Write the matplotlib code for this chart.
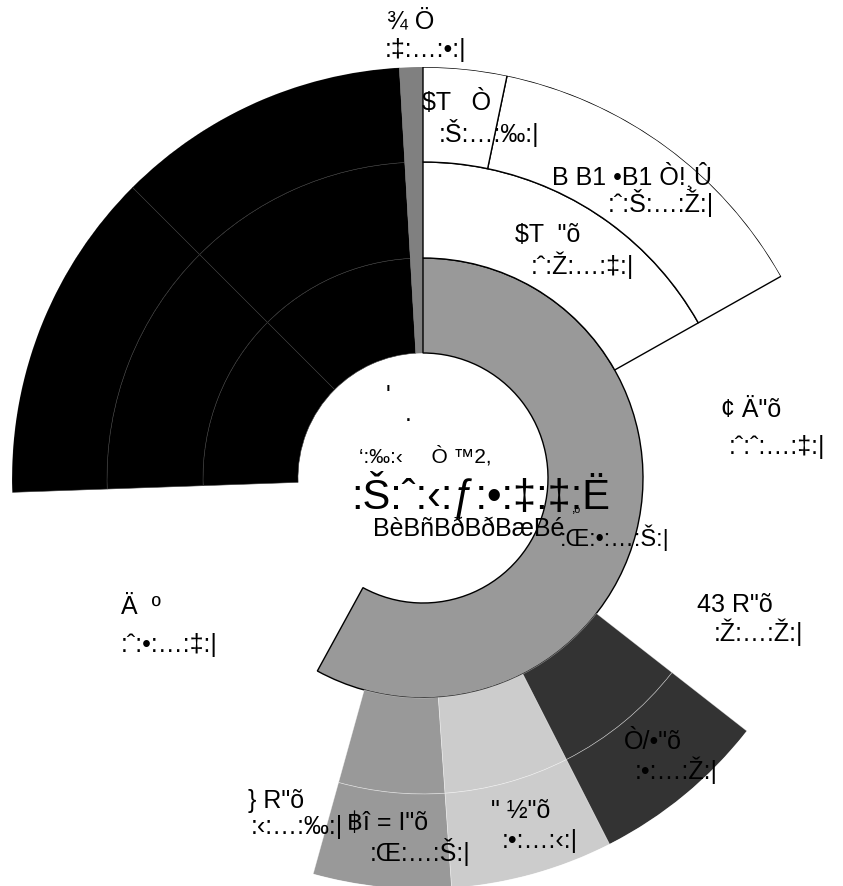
import numpy as np
import matplotlib
matplotlib.use('Agg')
import matplotlib.pyplot as plt

plt.rcParams['font.family'] = ['Liberation Sans', 'DejaVu Sans', 'Noto Sans']

W, H = 843, 886

# ring edges (hole, ring1, ring2, ring3)
ring_edges = [125, 220, 316, 411]

# sector boundaries in degrees (0 = east, counter-clockwise)
black_theta = [93.3, 135.0, 182.0]
thin_theta = [90.0, 93.3]
ring1_theta = [-118.7, 90.0]
top_ring2_theta = [29.4, 90.0]
top_ring3_theta = [29.4, 78.2, 90.0]
bottom_theta = [-105.5, -86.0, -63.0, -38.0]
bottom_colors = ['#999999', '#cccccc', '#333333']

# label texts
label_texts = ['¾ Ö', ':‡:…:•:|',
               '$T   Ò', ':Š:…:‰:|',
               'B B1 •B1 Ò!¸Û', ':ˆ:Š:…:Ž:|',
               '$T  "õ', ':ˆ:Ž:…:‡:|',
               '¢ Ä"õ', ':ˆ:ˆ:…:‡:|',
               '43 R"õ', ':Ž:…:Ž:|',
               'Ò/•"õ', ':•:…:Ž:|',
               '} R"õ', ':‹:…:‰:|',
               '฿î = I"õ', ':Œ:…:Š:|',
               '" ½"õ', ':•:…:‹:|',
               'Ä  º', ':ˆ:•:…:‡:|']
label_pos = [(411, 21), (426, 50),
             (457, 102), (489, 133),
             (632, 176), (661, 203),
             (548, 235), (582, 265),
             (751, 410), (777, 447),
             (735, 605), (758, 632),
             (653, 742), (676, 770),
             (276, 801), (297, 827),
             (388, 823), (420, 852),
             (521, 811), (540, 841),
             (141, 607), (169, 645)]

center_texts = ["'", '.', '‘:‰:‹     Ò ™2,', ':Š:ˆ:‹:ƒ:•:‡:‡:Ë', 'BèBñBðBðBæBé', '‚ₒ', ':Œ:•:…:Š:|']
center_pos = [(388, 396), (408, 414), (425, 456), (481, 494), (469, 529), (576, 508), (615, 538)]
center_size = [18, 18, 15, 30, 18, 11, 17]


def bar(ax, t0, t1, r0, r1, color, ec, lw):
    ax.bar(np.radians(t0), r1 - r0, width=np.radians(t1 - t0), bottom=r0,
           align='edge', color=color, edgecolor=ec, linewidth=lw)


fig = plt.figure(figsize=(W / 100, H / 100), dpi=100)
cx, cy, R = 423, 478, ring_edges[-1]
ax = fig.add_axes([(cx - R) / W, (H - cy - R) / H, 2 * R / W, 2 * R / H], projection='polar')
ax.set_ylim(0, R)
ax.set_axis_off()

# black parent, split in two columns and three rings
for i in range(len(black_theta) - 1):
    for j in range(3):
        bar(ax, black_theta[i], black_theta[i + 1], ring_edges[j], ring_edges[j + 1],
            '#000000', '#3a3a3a', 0.4)

# thin grey wedge
bar(ax, thin_theta[0], thin_theta[1], ring_edges[0], ring_edges[3], '#808080', '#808080', 0.3)

# inner grey ring
bar(ax, ring1_theta[0], ring1_theta[1], ring_edges[0], ring_edges[1], '#999999', '#000000', 1.0)

# white children at top right
bar(ax, top_ring2_theta[0], top_ring2_theta[1], ring_edges[1], ring_edges[2], '#ffffff', '#000000', 1.0)
for i in range(len(top_ring3_theta) - 1):
    bar(ax, top_ring3_theta[i], top_ring3_theta[i + 1], ring_edges[2], ring_edges[3],
        '#ffffff', '#000000', 1.0)

# bottom children
for i in range(len(bottom_colors)):
    for j in (1, 2):
        bar(ax, bottom_theta[i], bottom_theta[i + 1], ring_edges[j], ring_edges[j + 1],
            bottom_colors[i], (1, 1, 1, 0.45), 0.5)

for s, (x, y) in zip(label_texts, label_pos):
    fig.text(x / W, 1 - y / H, s, ha='center', va='center', fontsize=18, color='black')

for s, (x, y), fs in zip(center_texts, center_pos, center_size):
    fig.text(x / W, 1 - y / H, s, ha='center', va='center', fontsize=fs, color='black')

fig.savefig('out.png', dpi=100)
